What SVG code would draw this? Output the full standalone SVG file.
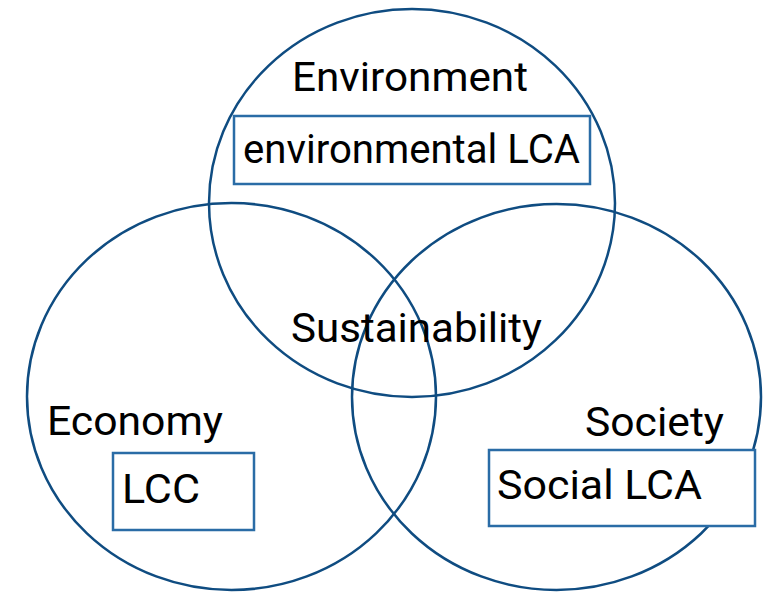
<svg xmlns="http://www.w3.org/2000/svg" width="770" height="593" viewBox="0 0 770 593">
  <style>
    .ring { fill: none; stroke: #0f4c81; stroke-width: 2.5; }
    .box { fill: #fff; stroke: #2a6ca6; stroke-width: 2.5; }
    .lbl { font-family: Roboto, "Liberation Sans", sans-serif; font-size: 41.5px; fill: #000; }
  </style>
  <rect width="770" height="593" fill="#fff"/>
  <!-- rings first, so the white label boxes sit on top of them -->
  <g id="rings">
    <ellipse id="ring-environment" class="ring" cx="412" cy="203" rx="203" ry="194"/>
    <ellipse id="ring-economy" class="ring" cx="231.5" cy="396.5" rx="204.5" ry="193.5"/>
    <ellipse id="ring-society" class="ring" cx="556.5" cy="397" rx="204.5" ry="193"/>
  </g>
  <g id="environment">
    <text class="lbl" x="292" y="91" textLength="236" lengthAdjust="spacingAndGlyphs">Environment</text>
    <rect class="box" x="234" y="116" width="356" height="68"/>
    <text class="lbl" x="243" y="163" textLength="337" lengthAdjust="spacingAndGlyphs">environmental LCA</text>
  </g>
  <g id="economy">
    <text class="lbl" x="47" y="435" textLength="176" lengthAdjust="spacingAndGlyphs">Economy</text>
    <rect class="box" x="113" y="453" width="141" height="77"/>
    <text class="lbl" x="122" y="503" textLength="78" lengthAdjust="spacingAndGlyphs">LCC</text>
  </g>
  <g id="society">
    <text class="lbl" x="585" y="436" textLength="139" lengthAdjust="spacingAndGlyphs">Society</text>
    <rect class="box" x="489" y="450" width="266" height="76"/>
    <text class="lbl" x="497" y="499" textLength="205" lengthAdjust="spacingAndGlyphs">Social LCA</text>
  </g>
  <g id="sustainability">
    <text class="lbl" x="291" y="342" textLength="251" lengthAdjust="spacingAndGlyphs">Sustainability</text>
  </g>
  <g id="connectors"></g>
</svg>
